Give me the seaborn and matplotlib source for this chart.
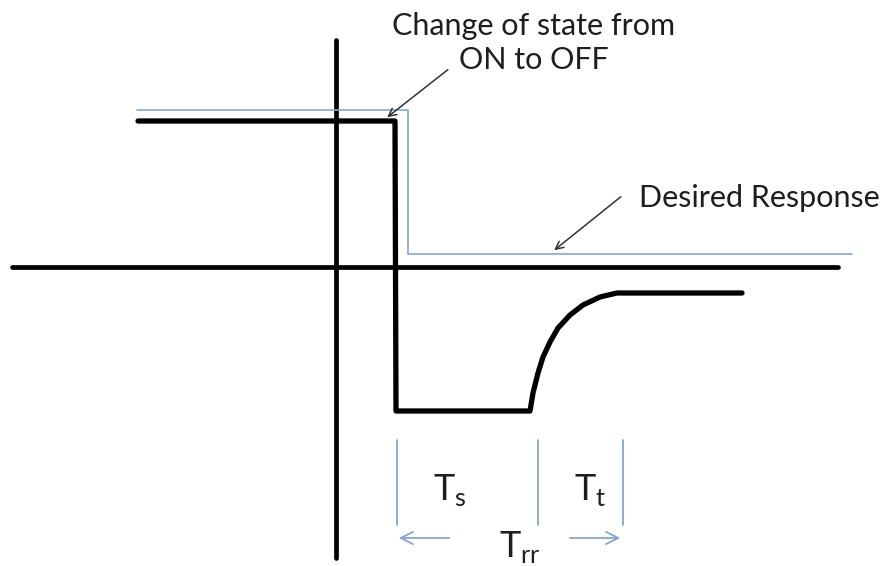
import matplotlib
matplotlib.use("Agg")
import matplotlib.pyplot as plt
import pandas as pd
import seaborn as sns

# coordinates (pixel space, y grows downward)
axis_v_x = [336, 336]
axis_v_y = [40, 558]
axis_h_x = [12, 838]
axis_h_y = [267, 267]

# actual switching response (black)
resp_x = [138, 395, 396, 530, 533, 538, 543, 550, 558, 570, 583, 600, 617, 742]
resp_y = [121, 121, 411, 411, 393, 373, 357, 342, 328, 315, 305, 297, 293, 293]

# desired response (thin blue)
desired_x = [137, 408, 408, 852]
desired_y = [110, 110, 254, 254]

# timing markers
marker_x = [397, 538, 623]
marker_top = 440
marker_bottom = 525

# labels
note_state = "Change of state from\nON to OFF"
note_desired = "Desired Response"
lbl_ts = "T$_\\mathregular{s}$"
lbl_tt = "T$_\\mathregular{t}$"
lbl_trr = "T$_\\mathregular{rr}$"

sns.set_theme(style="white")
plt.rcParams["font.family"] = ["Lato", "DejaVu Sans"]
plt.rcParams["mathtext.fontset"] = "custom"
plt.rcParams["mathtext.rm"] = "Lato"

fig = plt.figure(figsize=(8.86, 5.66), dpi=100)
ax = fig.add_axes([0, 0, 1, 1])

blue = "#86a6d8"
ink = "#1e1e1e"

sns.lineplot(x=axis_v_x, y=axis_v_y, ax=ax, color="black", lw=3.4,
             sort=False, estimator=None, solid_capstyle="round")
sns.lineplot(x=axis_h_x, y=axis_h_y, ax=ax, color="black", lw=3.4,
             sort=False, estimator=None, solid_capstyle="round")

desired = pd.DataFrame({"x": desired_x, "y": desired_y})
sns.lineplot(data=desired, x="x", y="y", ax=ax, color=blue, lw=1.2,
             sort=False, estimator=None)

resp = pd.DataFrame({"x": resp_x, "y": resp_y})
sns.lineplot(data=resp, x="x", y="y", ax=ax, color="black", lw=3.8,
             sort=False, estimator=None, solid_capstyle="round",
             solid_joinstyle="round")

for mx in marker_x:
    ax.plot([mx, mx], [marker_top, marker_bottom], color=blue, lw=1.3)

# T_rr span arrows
ax.annotate("", xy=(396, 538), xytext=(452, 538),
            arrowprops=dict(arrowstyle="->", color=blue, lw=1.3,
                            mutation_scale=22))
ax.annotate("", xy=(623, 538), xytext=(567, 538),
            arrowprops=dict(arrowstyle="->", color=blue, lw=1.3,
                            mutation_scale=22))

# callouts
ax.annotate("", xy=(385, 119), xytext=(450, 68),
            arrowprops=dict(arrowstyle="->", color="#333333", lw=1.1,
                            mutation_scale=14))
ax.text(534, 43, note_state, ha="center", va="center", fontsize=22,
        color=ink, linespacing=1.3)

ax.annotate("", xy=(552, 252), xytext=(623, 195),
            arrowprops=dict(arrowstyle="->", color="#333333", lw=1.1,
                            mutation_scale=14))
ax.text(639, 198, note_desired, ha="left", va="center", fontsize=22,
        color=ink)

ax.text(450, 490, lbl_ts, ha="center", va="center", fontsize=26, color=ink)
ax.text(590, 490, lbl_tt, ha="center", va="center", fontsize=26, color=ink)
ax.text(520, 547, lbl_trr, ha="center", va="center", fontsize=26, color=ink)

ax.set_xlim(0, 886)
ax.set_ylim(566, 0)
ax.axis("off")

fig.savefig("out.png", dpi=100, facecolor="white")
